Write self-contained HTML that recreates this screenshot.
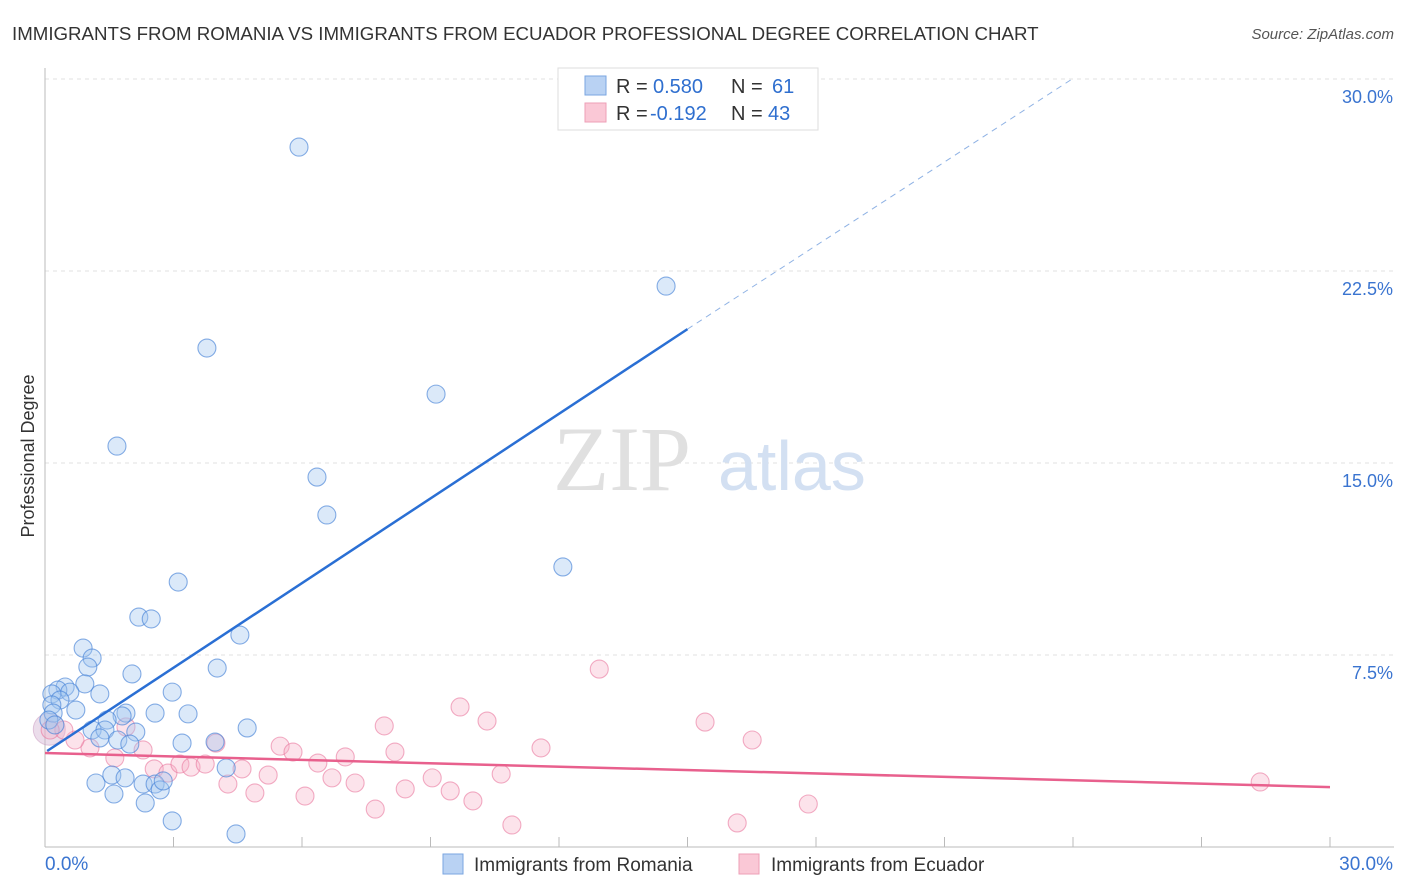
<!DOCTYPE html>
<html><head><meta charset="utf-8"><style>
body{margin:0;background:#fff;font-family:"Liberation Sans",sans-serif}
svg{display:block}
</style></head><body>
<svg width="1406" height="892" xmlns="http://www.w3.org/2000/svg">
<text x="12" y="40" font-size="18.7" fill="#333">IMMIGRANTS FROM ROMANIA VS IMMIGRANTS FROM ECUADOR PROFESSIONAL DEGREE CORRELATION CHART</text>
<text x="1394" y="39" font-size="15" fill="#555" font-style="italic" text-anchor="end">Source: ZipAtlas.com</text>
<text x="34" y="456" font-size="18" fill="#333" text-anchor="middle" transform="rotate(-90 34 456)">Professional Degree</text>
<g id="grid"></g>
<text x="553" y="490" font-size="92" fill="#e0e0e0" font-family="Liberation Serif">ZIP</text>
<text x="718" y="490" font-size="70" fill="#d3e0f2">atlas</text>
<g id="marks"></g>
<g>
<rect x="558" y="68" width="260" height="62" fill="#fff" stroke="#ddd"/>
<rect x="585" y="76" width="21" height="19" fill="#b9d2f3" stroke="#7aa6e0"/>
<rect x="585" y="103" width="21" height="19" fill="#fac8d6" stroke="#ee9fb7"/>
<text x="616" y="93" font-size="20" fill="#333">R = <tspan x="653" fill="#2f6fcf">0.580</tspan><tspan x="731">N = </tspan><tspan x="772" fill="#2f6fcf">61</tspan></text>
<text x="616" y="120" font-size="20" fill="#333">R = <tspan x="650" fill="#2f6fcf">-0.192</tspan><tspan x="731">N = </tspan><tspan x="768" fill="#2f6fcf">43</tspan></text>
</g>
<g>
<rect x="443" y="854" width="20" height="20" fill="#b9d2f3" stroke="#7aa6e0"/>
<text x="474" y="871" font-size="19" fill="#333">Immigrants from Romania</text>
<rect x="739" y="854" width="20" height="20" fill="#fac8d6" stroke="#ee9fb7"/>
<text x="771" y="871" font-size="19" fill="#333">Immigrants from Ecuador</text>
</g>
</svg>
<script>
const yTicks=[7.5,15,22.5,30];
const yTickLabels=["7.5%","15.0%","22.5%","30.0%"];
const romaniaX=[5.93,14.50,3.78,9.13,1.68,6.35,6.58,12.09,3.11,2.19,2.48,4.55,0.89,1.10,1.00,4.02,2.03,0.93,0.47,0.30,0.16,0.58,1.28,2.97,0.35,0.16,0.72,0.19,2.57,3.34,1.89,1.80,1.45,1.10,1.40,4.72,2.12,1.28,1.70,1.98,3.20,3.97,1.19,1.56,1.87,2.29,2.57,2.69,2.76,1.61,2.34,2.97,4.46,4.23,0.09,0.23];
const romaniaY=[27.34,21.91,19.49,17.69,15.66,14.45,12.97,10.94,10.35,8.98,8.91,8.28,7.77,7.38,7.03,6.99,6.76,6.37,6.25,6.13,5.98,6.05,5.98,6.05,5.74,5.55,5.35,5.23,5.23,5.20,5.23,5.12,4.96,4.57,4.57,4.65,4.49,4.26,4.18,4.02,4.06,4.10,2.50,2.81,2.70,2.46,2.46,2.23,2.58,2.07,1.72,1.02,0.51,3.09,4.96,4.77];
const ecuadorX=[12.94,9.69,10.32,7.92,15.41,16.51,11.58,8.17,5.49,5.79,7.01,3.99,2.29,1.89,1.05,0.70,0.44,0.12,1.63,2.55,2.87,3.15,3.41,3.74,4.60,5.21,6.37,6.70,7.24,9.04,10.65,4.27,4.90,6.07,8.41,9.46,9.99,7.71,10.90,16.16,17.82,28.37];
const ecuadorY=[6.95,5.47,4.92,4.73,4.88,4.18,3.87,3.71,3.94,3.71,3.52,4.06,3.79,4.69,3.87,4.18,4.57,4.57,3.48,3.05,2.89,3.24,3.12,3.24,3.05,2.81,3.28,2.70,2.50,2.70,2.85,2.46,2.11,1.99,2.27,2.19,1.80,1.48,0.86,0.94,1.68,2.54];
const romaniaTrend=[0.05,3.75,15.0,20.23,23.98,30];
const ecuadorTrend=[0,3.67,30,2.34];
const xMin=0,xMax=30;
const X=v=>45+(v-xMin)/(xMax-xMin)*1285;
const Y=v=>847-v/30*768;
const NS="http://www.w3.org/2000/svg";
function mk(t,a,p){const e=document.createElementNS(NS,t);for(const k in a)e.setAttribute(k,a[k]);p.appendChild(e);return e;}
const g=document.getElementById('grid');
yTicks.forEach((t,i)=>{
 const l=mk('line',{x1:45,x2:1394,y1:Y(t),y2:Y(t),stroke:'#e2e2e2','stroke-dasharray':'4 4'},g);
 
 
 const tx=mk('text',{x:1393,y:Y(t)+24,'font-size':18,fill:'#3a74d0','text-anchor':'end'},g);
 tx.textContent=yTickLabels[i];
 
 
});
const ax=mk('line',{x1:45,x2:45,y1:68,y2:847,stroke:'#bbb'},g);


const bx=mk('line',{x1:45,x2:1394,y1:847,y2:847,stroke:'#bbb'},g);


for(let i=1;i<=10;i++){const t=mk('line',{x1:X(i*3),x2:X(i*3),y1:837,y2:847,stroke:'#bbb'},g);
 
 }
[[xMin,'0.0%',45,'start'],[xMax,'30.0%',1393,'end']].forEach(d=>{
 const t=mk('text',{x:d[2],y:870,'font-size':19,fill:'#3a74d0','text-anchor':d[3]},g);t.textContent=d[1];
 
 });
const m=document.getElementById('marks');
const big=mk('circle',{cx:X(0.1),cy:Y(4.6),r:16,fill:'rgba(210,180,210,0.45)',stroke:'rgba(200,150,190,0.5)'},m);


ecuadorX.forEach((v,i)=>{const c=mk('circle',{cx:X(v),cy:Y(ecuadorY[i]),r:9,fill:'rgba(246,176,198,0.35)',stroke:'rgba(234,120,158,0.6)','stroke-width':1.1},m);
 
 });
romaniaX.forEach((v,i)=>{const c=mk('circle',{cx:X(v),cy:Y(romaniaY[i]),r:9,fill:'rgba(160,196,240,0.38)',stroke:'rgba(70,130,215,0.65)','stroke-width':1.1},m);
 
 });
const bl=mk('line',{x1:X(romaniaTrend[0]),y1:Y(romaniaTrend[1]),x2:X(romaniaTrend[2]),y2:Y(romaniaTrend[3]),stroke:'#2a6fd4','stroke-width':2.5},m);


const bd=mk('line',{x1:X(romaniaTrend[2]),y1:Y(romaniaTrend[3]),x2:X(romaniaTrend[4]),y2:Y(romaniaTrend[5]),stroke:'#8fb2e4','stroke-width':1,'stroke-dasharray':'6 5'},m);


const pl=mk('line',{x1:X(ecuadorTrend[0]),y1:Y(ecuadorTrend[1]),x2:X(ecuadorTrend[2]),y2:Y(ecuadorTrend[3]),stroke:'#e8608d','stroke-width':2.5},m);


</script>
</body></html>
